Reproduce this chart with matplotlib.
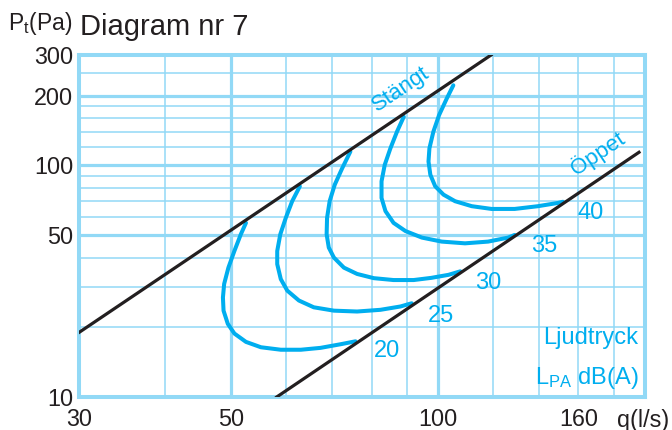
import matplotlib
matplotlib.use('Agg')
import matplotlib.pyplot as plt
from matplotlib.ticker import FixedLocator, NullLocator

plt.rcParams['font.family'] = ['Liberation Sans', 'DejaVu Sans']
plt.rcParams['mathtext.fontset'] = 'custom'
plt.rcParams['mathtext.rm'] = 'Liberation Sans'

# axes
x_ticks = [30, 50, 100, 160]
y_ticks = [10, 50, 100, 200, 300]
x_grid_minor = [40, 60, 70, 80, 90, 120, 140, 160, 180]
x_grid_major = [50, 100]
y_grid_minor = [20, 30, 40, 60, 70, 80, 90, 120, 140, 160, 180, 250]
y_grid_major = [50, 100, 200]

# damper lines (q in l/s, p in Pa)
closed_q = [30, 119.4]
closed_p = [19, 300]
open_q = [58.2, 196]
open_p = [10, 114]

# sound pressure curves, LPA dB(A)
levels = [20, 25, 30, 35, 40]
q20 = [52.5, 51.6, 50.5, 49.5, 48.8, 48.6, 48.7, 49.4, 50.5, 52.5, 55.2, 59.0,
       63.1, 67.4, 72.1, 75.8]
p20 = [56.5, 50.4, 42.7, 36.2, 30.8, 26.9, 23.6, 20.7, 18.8, 17.3, 16.4, 16.0,
       16.0, 16.3, 16.9, 17.4]
q25 = [62.9, 61.3, 60.0, 58.9, 58.3, 58.3, 59.0, 60.3, 62.7, 65.9, 70.5, 76.2,
       82.4, 88.1, 91.5]
p25 = [81.3, 70.1, 59.4, 50.4, 42.7, 37.5, 32.3, 28.8, 26.1, 24.4, 23.6, 23.4,
       23.8, 24.6, 25.4]
q30 = [74.5, 72.5, 70.7, 69.5, 68.9, 68.8, 69.3, 70.5, 72.9, 76.2, 80.6, 86.1,
       92.1, 97.7, 103.5, 107.7]
p30 = [114.8, 97.4, 82.6, 70.1, 59.4, 50.4, 44.2, 40.0, 36.2, 34.0, 32.6, 32.0,
       32.0, 32.7, 33.7, 34.9]
q35 = [89.1, 87.1, 85.2, 83.6, 82.7, 82.7, 83.8, 86.1, 89.6, 94.7, 101.2, 109.4,
       118.2, 126.4, 129.2]
p35 = [162.3, 140.0, 118.6, 100.7, 85.4, 72.4, 63.5, 56.5, 52.1, 48.8, 46.9, 46.1,
       46.9, 48.8, 50.1]
q40 = [105.2, 102.9, 100.3, 98.4, 97.1, 96.8, 97.4, 99.0, 101.8, 105.8, 111.9,
       119.6, 129.2, 139.7, 149.4, 151.9]
p40 = [222.0, 194.5, 165.1, 140.0, 118.6, 104.0, 91.2, 81.3, 74.8, 70.1, 66.7,
       64.9, 64.9, 66.7, 68.9, 69.7]
curves_q = [q20, q25, q30, q35, q40]
curves_p = [p20, p25, p30, p35, p40]

# where the level numbers sit
label_q = [84.2, 101.1, 118.2, 142.6, 166.7]
label_p = [15.8, 22.3, 31.2, 44.7, 62.2]

grid_c = '#92d9f6'
blue = '#00aeef'
dark = '#231f20'

fig = plt.figure(figsize=(6.72, 4.30), dpi=100)
ax = fig.add_axes([79 / 672, 33 / 430, 566 / 672, 342 / 430])
ax.set_xscale('log')
ax.set_yscale('log')
ax.set_xlim(30, 200)
ax.set_ylim(10, 300)

ax.xaxis.set_major_locator(FixedLocator(x_ticks))
ax.yaxis.set_major_locator(FixedLocator(y_ticks))
ax.xaxis.set_minor_locator(NullLocator())
ax.yaxis.set_minor_locator(NullLocator())
ax.set_xticklabels([str(v) for v in x_ticks])
ax.set_yticklabels([str(v) for v in y_ticks])
ax.tick_params(length=0, labelsize=16.8, labelcolor=dark)
ax.tick_params(axis='x', pad=8)
ax.tick_params(axis='y', pad=4)

for v in x_grid_minor:
    ax.axvline(v, color=grid_c, lw=1.1, zorder=1)
for v in x_grid_major:
    ax.axvline(v, color=grid_c, lw=2.3, zorder=1)
for v in y_grid_minor:
    ax.axhline(v, color=grid_c, lw=1.1, zorder=1)
for v in y_grid_major:
    ax.axhline(v, color=grid_c, lw=2.3, zorder=1)
for s in ax.spines.values():
    s.set_color(grid_c)
    s.set_linewidth(2.9)
    s.set_zorder(2)

for q, p in zip(curves_q, curves_p):
    ax.plot(q, p, color=blue, lw=2.9, solid_joinstyle='round',
            solid_capstyle='round', zorder=3)

ax.plot(closed_q, closed_p, color=dark, lw=2.3, zorder=4)
ax.plot(open_q, open_p, color=dark, lw=2.3, zorder=4)

for lv, q, p in zip(levels, label_q, label_p):
    ax.text(q, p, str(lv), color=blue, fontsize=17, ha='center', va='center', zorder=5)

ax.text(88.2, 214, 'Stängt', color=blue, fontsize=16, rotation=34,
        ha='center', va='center', rotation_mode='anchor', zorder=5)
ax.text(170.7, 112.6, 'Öppet', color=blue, fontsize=16, rotation=34,
        ha='center', va='center', rotation_mode='anchor', zorder=5)

ax.text(0.988, 0.1725, 'Ljudtryck', transform=ax.transAxes, color=blue,
        fontsize=17, ha='right', va='center', zorder=5)
ax.text(0.988, 0.0556, r'$\mathrm{L_{PA}}$ dB(A)', transform=ax.transAxes,
        color=blue, fontsize=17, ha='right', va='center', zorder=5)

fig.text(617 / 672, 1 - 420 / 430, 'q(l/s)', fontsize=16.8, color=dark,
         ha='left', va='center')
fig.text(8 / 672, 1 - 30 / 430, r'$\mathrm{P_t}$(Pa)', fontsize=16.5, color=dark,
         ha='left', va='baseline')
fig.text(80 / 672, 1 - 35 / 430, 'Diagram nr 7', fontsize=21, color=dark,
         ha='left', va='baseline')

fig.savefig('out.png', dpi=100)
